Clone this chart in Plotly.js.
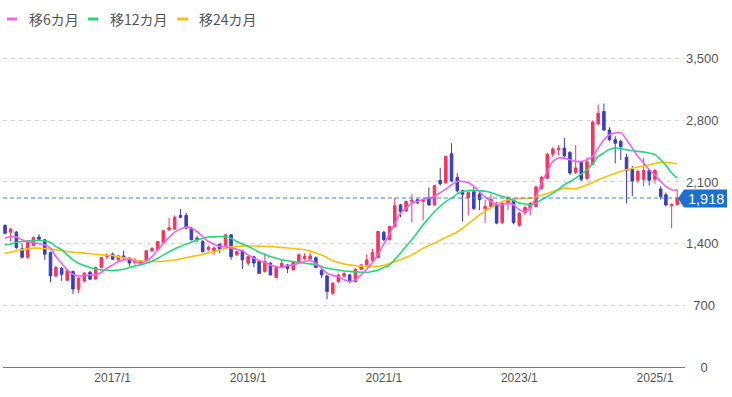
<!DOCTYPE html>
<html>
<head>
<meta charset="utf-8">
<script src="https://cdn.plot.ly/plotly-3.0.1.min.js"></script>
<style>
  html, body { margin: 0; padding: 0; background: #ffffff; }
  #chart { width: 732px; height: 397px; }
</style>
</head>
<body>
<div id="chart"></div>
<script>
// ---- data (monthly, 2015/6 - 2025/5) ----
const months = [
  "2015-06","2015-07","2015-08","2015-09","2015-10","2015-11","2015-12",
  "2016-01","2016-02","2016-03","2016-04","2016-05","2016-06","2016-07","2016-08","2016-09","2016-10","2016-11","2016-12",
  "2017-01","2017-02","2017-03","2017-04","2017-05","2017-06","2017-07","2017-08","2017-09","2017-10","2017-11","2017-12",
  "2018-01","2018-02","2018-03","2018-04","2018-05","2018-06","2018-07","2018-08","2018-09","2018-10","2018-11","2018-12",
  "2019-01","2019-02","2019-03","2019-04","2019-05","2019-06","2019-07","2019-08","2019-09","2019-10","2019-11","2019-12",
  "2020-01","2020-02","2020-03","2020-04","2020-05","2020-06","2020-07","2020-08","2020-09","2020-10","2020-11","2020-12",
  "2021-01","2021-02","2021-03","2021-04","2021-05","2021-06","2021-07","2021-08","2021-09","2021-10","2021-11","2021-12",
  "2022-01","2022-02","2022-03","2022-04","2022-05","2022-06","2022-07","2022-08","2022-09","2022-10","2022-11","2022-12",
  "2023-01","2023-02","2023-03","2023-04","2023-05","2023-06","2023-07","2023-08","2023-09","2023-10","2023-11","2023-12",
  "2024-01","2024-02","2024-03","2024-04","2024-05","2024-06","2024-07","2024-08","2024-09","2024-10","2024-11","2024-12",
  "2025-01","2025-02","2025-03","2025-04","2025-05"
];

const openP = [1606,1530,1530,1341,1246,1379,1475,1443,1299,1034,
  1121,985,1083,883,977,1076,1000,1129,1253,1280,
  1216,1261,1235,1185,1170,1205,1318,1330,1410,1557,
  1565,1720,1720,1576,1460,1424,1330,1320,1394,1370,
  1500,1273,1318,1178,1250,1197,1083,1178,1015,1140,
  1159,1102,1197,1230,1227,1240,1100,1034,837,970,
  1030,1045,970,1110,1159,1210,1240,1530,1445,1595,
  1840,1770,1880,1898,1880,1924,1840,2117,2090,2420,
  2150,2000,1920,1990,1960,1795,1822,1860,1640,1860,
  1905,1610,1753,1803,1822,2030,2144,2416,2466,2485,
  2435,2210,2320,2140,2300,2760,2900,2690,2580,2560,
  2380,2240,2120,2130,2230,2130,2020,1955,1830,1845];

const highP = [1620,1580,1545,1400,1430,1480,1508,1455,1310,1150,
  1135,1100,1095,1020,1080,1090,1140,1250,1290,1300,
  1270,1322,1245,1240,1215,1325,1360,1430,1555,1690,
  1720,1795,1750,1590,1490,1440,1380,1370,1400,1510,
  1510,1320,1330,1260,1260,1210,1290,1190,1135,1220,
  1170,1205,1290,1290,1300,1255,1110,1045,960,1060,
  1075,1055,1120,1170,1280,1340,1545,1545,1600,1920,
  1850,1890,1960,1910,1910,2038,2070,2260,2400,2540,
  2200,2010,2000,2050,2000,1900,1960,1870,1880,1940,
  1920,1760,1830,1870,2060,2170,2430,2500,2520,2600,
  2450,2520,2340,2380,2800,2980,2990,2720,2620,2580,
  2420,2280,2240,2370,2250,2250,2050,1980,1860,2010];

const lowP = [1505,1424,1341,1230,1230,1370,1440,1216,962,1015,
  977,975,830,840,960,985,990,1120,1225,1215,
  1200,1225,1140,1160,1150,1195,1300,1320,1400,1540,
  1555,1690,1570,1440,1420,1300,1320,1270,1290,1360,
  1216,1260,1113,1150,1130,1055,1070,1040,1005,1130,
  1065,1095,1190,1210,1215,1120,1010,770,820,950,
  1015,950,960,1100,1150,1190,1235,1430,1435,1580,
  1700,1760,1640,1850,1663,1830,1830,2060,2080,2100,
  1980,1650,1720,1780,1780,1635,1810,1620,1620,1780,
  1620,1590,1720,1720,1810,2010,2130,2380,2400,2380,
  2180,2190,2110,2120,2290,2740,2680,2560,2310,2350,
  1860,1940,2090,2050,2060,2080,1900,1820,1576,1830];

const closeP = [1519,1565,1356,1246,1417,1470,1450,1280,1034,1129,
  1053,1091,886,1008,1064,997,1129,1242,1270,1224,
  1261,1240,1180,1210,1205,1318,1345,1424,1545,1580,
  1697,1700,1576,1443,1445,1310,1360,1350,1335,1500,
  1253,1310,1216,1253,1180,1064,1197,1045,1129,1178,
  1115,1197,1273,1255,1261,1130,1045,856,951,1045,
  1060,970,1110,1159,1216,1300,1538,1445,1595,1830,
  1765,1878,1895,1867,1900,1840,2057,2080,2390,2110,
  2000,1960,1980,1800,1900,1822,1905,1633,1860,1917,
  1640,1746,1810,1860,2042,2155,2416,2474,2485,2398,
  2201,2260,2130,2330,2780,2880,2690,2580,2540,2500,
  2230,2110,2220,2230,2120,2230,1935,1840,1845,1918];

const ma6 = [1462,1481,1474,1443,1424,1413,1400,1386,1349,1253,
  1178,1102,1053,1034,1038,1045,1045,1076,1121,1159,
  1197,1216,1224,1197,1178,1205,1253,1330,1405,1470,
  1530,1565,1587,1576,1538,1481,1424,1394,1367,1367,
  1349,1337,1318,1273,1235,1208,1185,1159,1140,1129,
  1151,1159,1178,1197,1205,1178,1121,1064,1040,1026,
  989,970,989,1045,1110,1185,1280,1395,1510,1630,
  1746,1803,1860,1878,1905,1917,1935,1980,2019,2068,
  2106,2106,2095,2050,1990,1930,1878,1841,1841,1860,
  1841,1784,1765,1803,1935,2088,2220,2333,2371,2371,
  2352,2333,2333,2352,2390,2485,2580,2636,2655,2660,
  2580,2485,2390,2314,2239,2182,2106,2049,2011,2011];

const ma12 = [1386,1394,1413,1424,1432,1436,1436,1432,1413,1367,
  1330,1273,1216,1178,1151,1129,1113,1102,1098,1095,
  1100,1110,1129,1145,1160,1178,1200,1235,1270,1310,
  1340,1367,1395,1417,1440,1462,1475,1477,1480,1481,
  1460,1424,1395,1367,1335,1303,1278,1253,1235,1216,
  1205,1197,1188,1178,1170,1159,1140,1121,1110,1100,
  1090,1085,1080,1075,1072,1085,1102,1130,1159,1220,
  1292,1370,1443,1530,1614,1690,1765,1825,1878,1917,
  1965,1990,2004,2004,2000,1995,1980,1955,1935,1917,
  1890,1860,1850,1841,1860,1898,1935,1973,2020,2068,
  2105,2144,2190,2239,2310,2390,2430,2470,2485,2480,
  2466,2455,2447,2440,2428,2410,2352,2290,2201,2144];

const ma24 = [1292,1303,1318,1330,1340,1349,1349,1345,1337,1330,
  1324,1310,1303,1298,1292,1286,1280,1273,1269,1265,
  1250,1240,1227,1215,1205,1197,1197,1197,1200,1205,
  1215,1227,1240,1253,1265,1280,1295,1310,1330,1349,
  1365,1370,1372,1373,1373,1372,1370,1367,1362,1357,
  1350,1345,1338,1330,1315,1295,1270,1240,1205,1185,
  1170,1159,1150,1145,1140,1140,1142,1155,1175,1195,
  1216,1245,1273,1310,1349,1378,1405,1440,1470,1500,
  1535,1575,1625,1675,1725,1770,1810,1850,1875,1898,
  1905,1910,1913,1917,1930,1950,1970,1992,2010,2030,
  2028,2023,2045,2068,2095,2125,2150,2175,2200,2220,
  2239,2255,2270,2283,2295,2310,2322,2322,2315,2307];

const yTickVals = [0, 700, 1400, 2100, 2800, 3500];
const yTickText = ["0", "700", "1,400", "2,100", "2,800", "3,500"];
const xTickVals = ["2017-01-01", "2019-01-01", "2021-01-01", "2023-01-01", "2025-01-01"];
const xTickText = ["2017/1", "2019/1", "2021/1", "2023/1", "2025/1"];
const legendNames = ["移6カ月", "移12カ月", "移24カ月"];
const lastPrice = 1918;
const lastPriceText = "1,918";

// ---- styling ----
const RED = "#f5365c";
const BLUE = "#3d3dbf";
const MA_COLORS = ["#f062f0", "#22d878", "#ffc107"];
const NBSP = "\u00a0";
const padCounts = [4, 2, 0, 0, 0, 0];
const yTickTextPadded = yTickText.map((t, i) => NBSP.repeat(padCounts[i]) + t);

const L = 3, R = 47, T = 41, B = 30;
const plotW = 732 - L - R;
const px2paperX = (px) => (px - L) / plotW;
const plotH = 397 - T - B;
const px2paperY = (py) => (397 - B - py) / plotH;

const traces = [
  {
    type: "candlestick",
    x: months,
    open: openP, high: highP, low: lowP, close: closeP,
    increasing: { line: { color: RED, width: 1 }, fillcolor: RED },
    decreasing: { line: { color: BLUE, width: 1 }, fillcolor: BLUE },
    whiskerwidth: 0,
    showlegend: false,
    hoverinfo: "skip"
  },
  { type: "scatter", mode: "lines", x: months, y: ma24, name: legendNames[2],
    line: { color: MA_COLORS[2], width: 1.6, shape: "spline", smoothing: 0.8 }, showlegend: false, hoverinfo: "skip" },
  { type: "scatter", mode: "lines", x: months, y: ma12, name: legendNames[1],
    line: { color: MA_COLORS[1], width: 1.6, shape: "spline", smoothing: 0.8 }, showlegend: false, hoverinfo: "skip" },
  { type: "scatter", mode: "lines", x: months, y: ma6, name: legendNames[0],
    line: { color: MA_COLORS[0], width: 1.6, shape: "spline", smoothing: 0.8 }, showlegend: false, hoverinfo: "skip" }
];

// manual legend
const legendLinePx = [[7, 17], [88, 98], [177, 188]];
const legendTextPx = [27, 108, 197];
const legendY = px2paperY(19);

const shapes = [
  { type: "line", xref: "paper", yref: "y", x0: 0, x1: 1, y0: lastPrice, y1: lastPrice,
    line: { color: "#3a86e0", width: 1.2, dash: "4px,3px" }, layer: "above" },
  { type: "path", xref: "paper", yref: "paper",
    path: "M " + px2paperX(678) + "," + px2paperY(198.5) +
          " L " + px2paperX(684) + "," + px2paperY(189.5) +
          " L " + px2paperX(727) + "," + px2paperY(189.5) +
          " L " + px2paperX(727) + "," + px2paperY(207.5) +
          " L " + px2paperX(684) + "," + px2paperY(207.5) + " Z",
    fillcolor: "#1f6fcf", line: { width: 0 }, layer: "above" }
];
legendLinePx.forEach((p, i) => {
  shapes.push({ type: "line", xref: "paper", yref: "paper",
    x0: px2paperX(p[0]), x1: px2paperX(p[1]), y0: legendY, y1: legendY,
    line: { color: MA_COLORS[i], width: 3 } });
});

const annotations = legendNames.map((n, i) => ({
  xref: "paper", yref: "paper", x: px2paperX(legendTextPx[i]), y: legendY,
  xanchor: "left", yanchor: "middle", showarrow: false, text: n,
  font: { family: "Noto Sans CJK JP, Noto Sans, sans-serif", size: 14, color: "#555555" }
}));
annotations.push({
  xref: "paper", yref: "paper", x: px2paperX(706), y: px2paperY(198.5),
  xanchor: "center", yanchor: "middle", showarrow: false, text: lastPriceText,
  font: { family: "Liberation Sans, Arial, sans-serif", size: 14.5, color: "#ffffff" }
});

const layout = {
  width: 732, height: 397,
  margin: { l: L, r: R, t: T, b: B },
  paper_bgcolor: "#ffffff", plot_bgcolor: "#ffffff",
  showlegend: false,
  font: { family: "Liberation Sans, Arial, sans-serif", size: 13, color: "#555555" },
  xaxis: {
    type: "date",
    range: ["2015-05-21", "2025-06-12"],
    tickvals: xTickVals, ticktext: xTickText,
    showgrid: false, zeroline: false,
    showline: true, linecolor: "#7a7a7a", linewidth: 1,
    ticks: "", tickfont: { size: 12, color: "#555555" },
    rangeslider: { visible: false },
    fixedrange: true
  },
  yaxis: {
    side: "right",
    range: [0, 3700],
    tickvals: yTickVals, ticktext: yTickTextPadded,
    showgrid: true, gridcolor: "#d6d6d6", griddash: "4px,4px", gridwidth: 1,
    zeroline: false, showline: false, ticks: "",
    tickfont: { size: 13, color: "#555555" },
    fixedrange: true
  },
  shapes: shapes,
  annotations: annotations
};

Plotly.newPlot("chart", traces, layout, { displayModeBar: false, staticPlot: true });
</script>
</body>
</html>
